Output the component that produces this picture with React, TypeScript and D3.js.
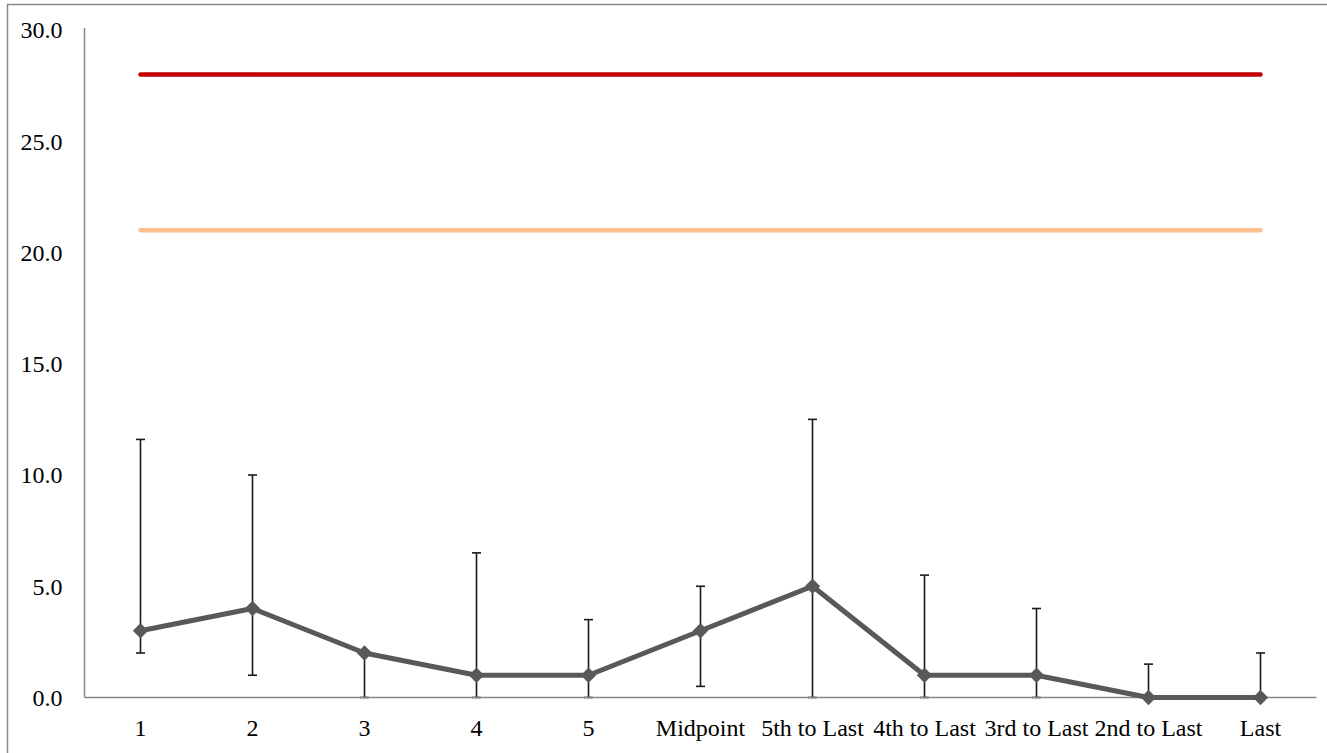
import React from "react";
import * as d3 from "d3";

const categories = ["1", "2", "3", "4", "5", "Midpoint", "5th to Last", "4th to Last", "3rd to Last", "2nd to Last", "Last"];
const values = [3, 4, 2, 1, 1, 3, 5, 1, 1, 0, 0];
const errUpper = [11.6, 10.0, 2.0, 6.5, 3.5, 5.0, 12.5, 5.5, 4.0, 1.5, 2.0];
const errLower = [2.0, 1.0, 0, 0, 0, 0.5, 0, 0, 0, 0, 0];
const redLevel = 28;
const orangeLevel = 21;
const yTicks = [0, 5, 10, 15, 20, 25, 30];

const W = 1327;
const H = 753;
const FONT = "'Liberation Serif', 'Times New Roman', serif";

export default function App() {
  const x = d3.scaleBand<string>().domain(categories).range([84.5, 1316.5]);
  const y = d3.scaleLinear().domain([0, 30]).range([697.5, 30]);
  const cx = (c: string) => (x(c) as number) + x.bandwidth() / 2;
  const line = d3
    .line<number>()
    .x((_, i) => cx(categories[i]))
    .y((d) => y(d));
  const diamond = d3.symbol().type(d3.symbolDiamond2).size(150)();
  const x0 = cx(categories[0]);
  const x1 = cx(categories[categories.length - 1]);
  const capW = 4.5;

  return (
    <svg width={W} height={H} style={{ position: "absolute", left: 0, top: 0, background: "#fff" }}>
      <rect x={7.5} y={4.5} width={1400} height={800} fill="#fff" stroke="#898989" strokeWidth={1.5} />
      {/* axes */}
      <line x1={84.5} x2={84.5} y1={28} y2={y(0)} stroke="#898989" strokeWidth={1.5} />
      {/* reference lines */}
      <line x1={x0} x2={x1} y1={y(redLevel)} y2={y(redLevel)} stroke="#C00000" strokeWidth={4.5} strokeLinecap="round" />
      <line x1={x0} x2={x1} y1={y(orangeLevel)} y2={y(orangeLevel)} stroke="#FCBF8E" strokeWidth={4.5} strokeLinecap="round" />
      {/* y tick labels */}
      {yTicks.map((t) => (
        <text key={t} x={62.5} y={y(t)} dy="0.35em" textAnchor="end" fontFamily={FONT} fontSize={24} fill="#000">
          {t.toFixed(1)}
        </text>
      ))}
      {/* error bars */}
      {categories.map((c, i) => {
        const px = cx(c);
        const top = errUpper[i];
        const bot = errLower[i];
        return (
          <g key={c} stroke="#1a1a1a" strokeWidth={1.6}>
            <line x1={px} x2={px} y1={y(top)} y2={y(bot)} />
            <line x1={px - capW} x2={px + capW} y1={y(top)} y2={y(top)} />
            <line x1={px - capW} x2={px + capW} y1={y(bot)} y2={y(bot)} />
          </g>
        );
      })}
      <line x1={84.5} x2={1316.5} y1={y(0)} y2={y(0)} stroke="#898989" strokeWidth={1.5} />
      {/* series line */}
      <path d={line(values) || ""} fill="none" stroke="#595959" strokeWidth={5} strokeLinejoin="round" />
      {values.map((v, i) => (
        <path key={i} d={diamond || ""} transform={`translate(${cx(categories[i])},${y(v)})`} fill="#595959" />
      ))}
      {/* x labels */}
      {categories.map((c) => (
        <text key={c} x={cx(c)} y={736} textAnchor="middle" fontFamily={FONT} fontSize={24} fill="#000">
          {c}
        </text>
      ))}
    </svg>
  );
}
